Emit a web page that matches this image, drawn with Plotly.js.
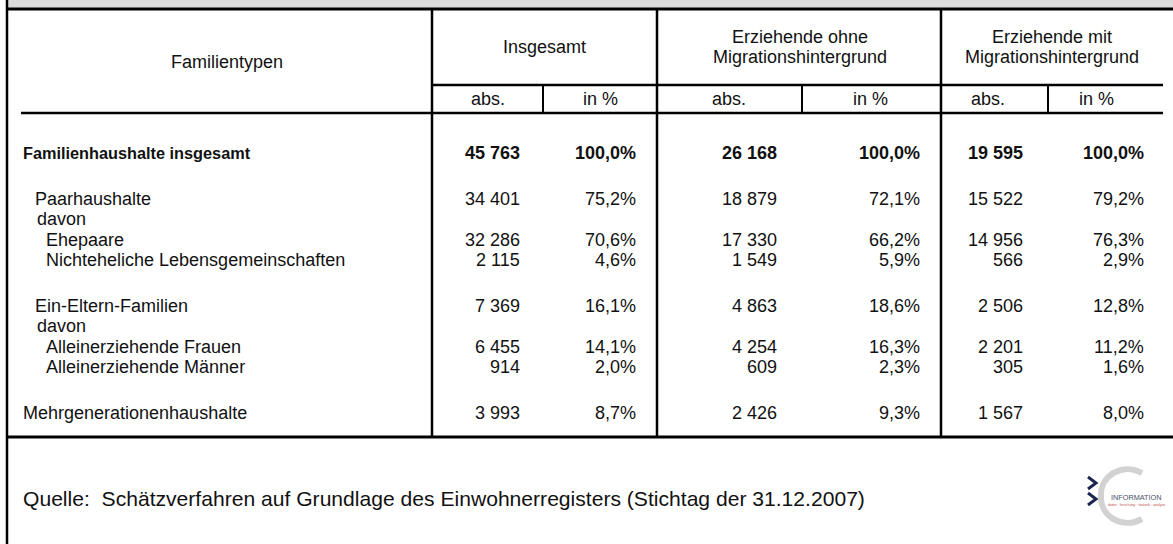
<!DOCTYPE html>
<html>
<head>
<meta charset="utf-8">
<script src="https://cdn.plot.ly/plotly-3.0.1.min.js"></script>
<style>html,body{margin:0;padding:0;background:#fff;}#chart{width:1173px;height:544px;}</style>
</head>
<body>
<div id="chart"></div>
<script>
// ---------- data ----------
const rowLabels = ["Familienhaushalte insgesamt", "Paarhaushalte", "davon", "Ehepaare",
  "Nichteheliche Lebensgemeinschaften", "Ein-Eltern-Familien", "davon",
  "Alleinerziehende Frauen", "Alleinerziehende Männer", "Mehrgenerationenhaushalte"];
const insgesamtAbs = [45763, 34401, null, 32286, 2115, 7369, null, 6455, 914, 3993];
const insgesamtPct = [100.0, 75.2, null, 70.6, 4.6, 16.1, null, 14.1, 2.0, 8.7];
const ohneAbs = [26168, 18879, null, 17330, 1549, 4863, null, 4254, 609, 2426];
const ohnePct = [100.0, 72.1, null, 66.2, 5.9, 18.6, null, 16.3, 2.3, 9.3];
const mitAbs = [19595, 15522, null, 14956, 566, 2506, null, 2201, 305, 1567];
const mitPct = [100.0, 79.2, null, 76.3, 2.9, 12.8, null, 11.2, 1.6, 8.0];
const groupHeaders = [["Insgesamt"], ["Erziehende ohne", "Migrationshintergrund"], ["Erziehende mit", "Migrationshintergrund"]];
const subHeaders = ["abs.", "in %"];
const firstHeader = "Familientypen";
const sourceNote = "Quelle:  Schätzverfahren auf Grundlage des Einwohnerregisters (Stichtag der 31.12.2007)";

// ---------- layout / style (not data) ----------
const FONT = "Liberation Sans, Arial, sans-serif";
const FS = 18;
const rowY = [153, 199, 219, 240, 260, 306, 326, 347, 367, 413];
const rowLevel = [0, 1, 2, 3, 3, 1, 2, 3, 3, 0];
const levelX = [22, 34, 36, 45];
const boldRow = [true, false, false, false, false, false, false, false, false, false];
const colRight = [521, 637, 778, 921, 1024, 1145];
const groupCenters = [544.5, 800, 1052];
const subCenters = [[487.5, 600.5], [729, 870], [988, 1096]];

function fmtAbs(n) { return String(n).replace(/\B(?=(\d{3})+(?!\d))/g, " "); }
function fmtPct(v) { return v.toFixed(1).replace(".", ",") + "%"; }

const annotations = [];
function addText(text, x, y, opts) {
  annotations.push(Object.assign({
    text: text, x: x, y: y, xref: "x", yref: "y", showarrow: false,
    xanchor: "left", yanchor: "middle", borderpad: 0,
    font: { family: FONT, size: FS, color: "#111" }
  }, opts || {}));
}

// header
addText(firstHeader, 226.5, 62, { xanchor: "center" });
groupHeaders.forEach((lines, g) => {
  if (lines.length === 1) addText(lines[0], groupCenters[g], 47, { xanchor: "center" });
  else lines.forEach((t, i) => addText(t, groupCenters[g], 37 + i * 20, { xanchor: "center" }));
  subHeaders.forEach((t, i) => addText(t, subCenters[g][i], 99, { xanchor: "center" }));
});

// body
const cols = [insgesamtAbs, insgesamtPct, ohneAbs, ohnePct, mitAbs, mitPct];
rowLabels.forEach((lab, r) => {
  const b = boldRow[r];
  if (b) addText("<b>" + lab + "</b>", levelX[rowLevel[r]], rowY[r], { font: { family: FONT, size: 16.3, color: "#111" } });
  else addText(lab, levelX[rowLevel[r]], rowY[r]);
  cols.forEach((col, c) => {
    const v = col[r];
    if (v === null) return;
    const t = (c % 2 === 0) ? fmtAbs(v) : fmtPct(v);
    addText(b ? "<b>" + t + "</b>" : t, colRight[c], rowY[r], { xanchor: "right" });
  });
});

// source
addText(sourceNote, 22, 498, { font: { family: FONT, size: 21.1, color: "#111" } });

// logo text
addText("INFORMATION", 1136, 497, { xanchor: "center", font: { family: FONT, size: 7.3, color: "#4a5268" } });
addText("daten · forschung · statistik · analyse", 1136, 505, { xanchor: "center", font: { family: FONT, size: 3.5, color: "#c0504d" } });

// ---------- lines ----------
const LC = "#000";
function hline(x0, x1, y, w) { return { type: "line", xref: "x", yref: "y", x0: x0, x1: x1, y0: y, y1: y, line: { color: LC, width: w } }; }
function vline(x, y0, y1, w) { return { type: "line", xref: "x", yref: "y", x0: x, x1: x, y0: y0, y1: y1, line: { color: LC, width: w } }; }
const shapes = [
  { type: "rect", xref: "x", yref: "y", x0: 7, x1: 1173, y0: 0, y1: 8, fillcolor: "#dcdcdc", line: { width: 0 }, layer: "below" },
  hline(6, 1173, 9, 3),
  vline(7, 0, 544, 2.5),
  hline(432, 1163, 85, 2.5),
  hline(21, 1163, 113, 2.5),
  hline(7, 1173, 437, 3),
  vline(432, 9, 437, 2.5),
  vline(657, 9, 437, 2.5),
  vline(941, 9, 437, 2.5),
  vline(543, 85, 113, 2),
  vline(802, 85, 113, 2),
  vline(1048, 85, 113, 2),
  // logo
  { type: "path", xref: "x", yref: "y", path: "M 1142 473 C 1122 462 1100 476 1101 496 C 1100 516 1122 530 1142 519", line: { color: "#d2d2d2", width: 6 } },
  { type: "path", xref: "x", yref: "y", path: "M 1088 477 L 1096 483 L 1088 489", line: { color: "#1c2650", width: 3 } },
  { type: "path", xref: "x", yref: "y", path: "M 1088 493 L 1096 499 L 1088 505", line: { color: "#1c2650", width: 3 } }
];

const layout = {
  width: 1173, height: 544,
  margin: { l: 0, r: 0, t: 0, b: 0, pad: 0 },
  paper_bgcolor: "#fff", plot_bgcolor: "#fff",
  showlegend: false,
  xaxis: { range: [0, 1173], visible: false, fixedrange: true },
  yaxis: { range: [544, 0], visible: false, fixedrange: true },
  annotations: annotations,
  shapes: shapes
};
const traces = [{ type: "scatter", x: [0], y: [0], mode: "markers", marker: { opacity: 0 }, hoverinfo: "skip" }];
Plotly.newPlot("chart", traces, layout, { staticPlot: true, displayModeBar: false });
</script>
</body>
</html>
